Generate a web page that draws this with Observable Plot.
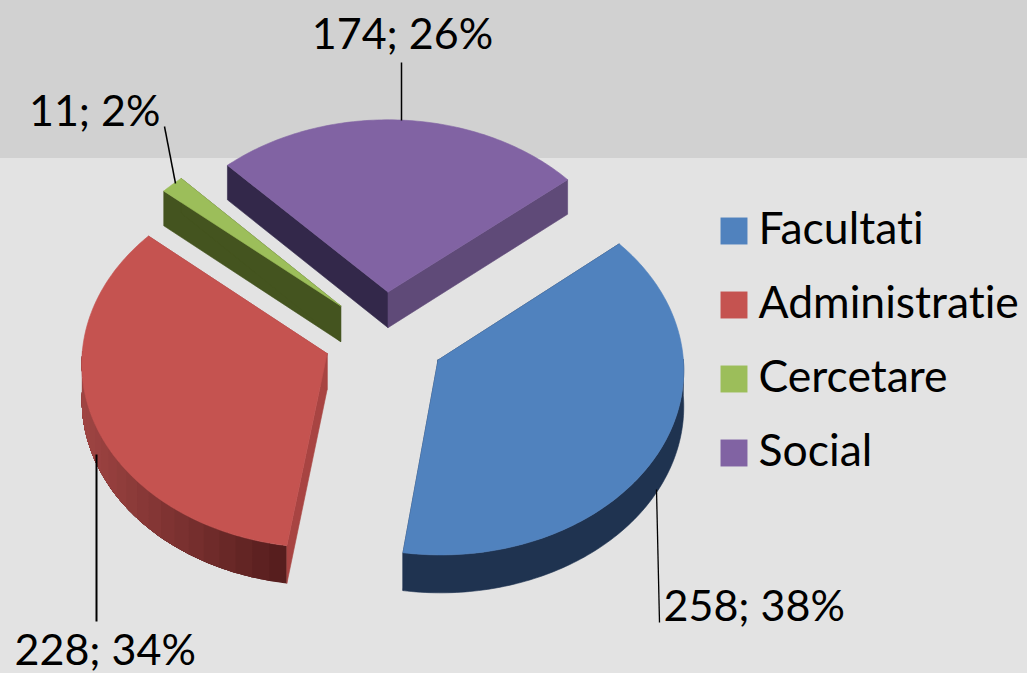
<!DOCTYPE html>
<html><head><meta charset="utf-8">
<script src="https://cdn.jsdelivr.net/npm/d3@7"></script>
<script src="https://cdn.jsdelivr.net/npm/@observablehq/plot@0.6"></script>
<style>html,body{margin:0;padding:0;background:#e3e3e3;overflow:hidden}svg{display:block}text{font-variant-ligatures:none;font-feature-settings:"liga" 0}</style>
</head><body><div id="c"></div>
<script>
const categories = ["Facultati","Administratie","Cercetare","Social"];
const values = [258,228,11,174];
const percents = [38,34,2,26];
const topColors = ["#5082be","#c55350","#9cbe5a","#8163a3"];
const startCutColors = ["#1f3350","#a84442","#44541f","#33284a"];
const endCutColors = ["#1f3350","#a84442","#44541f","#5f4a78"];
const arcColors = [["#1f3350","#1f3350"],["#a04543","#571e1e"],["#44541f","#44541f"],["#33284a","#33284a"]];

// view geometry of the tilted pie
const W=1027,H=673, cx=384, cy=337, rx=244, ry=184, k=0.045, explode=0.25, depth=36, startDeg=50;
const rad=d=>d*Math.PI/180;
const pie=d3.pie().sort(null).startAngle(rad(startDeg)).endAngle(rad(startDeg+360))(values);
const project=(u,v,z=0)=>{const w=1-k*v;return {x:cx+rx*u/w,y:cy+ry*v/w+z*depth/w};};
const slices=pie.map((p,i)=>{
  const mid=(p.startAngle+p.endAngle)/2, ox=explode*Math.sin(mid), oy=-explode*Math.cos(mid);
  const at=(a,z=0,r=1)=>project(ox+r*Math.sin(a),oy-r*Math.cos(a),z);
  const n=Math.max(4,Math.ceil((p.endAngle-p.startAngle)/rad(1)));
  const angles=d3.range(n+1).map(j=>p.startAngle+(p.endAngle-p.startAngle)*j/n);
  return {i,at,angles,apex:at(0,0,0),apexLow:at(0,1,0)};
});

const faces=[], strips=[]; let id=0;
const addFace=(pts,color,list=faces)=>{id++;[...pts,pts[0]].forEach(pt=>list.push({...pt,id,color}));};
for (const i of [3,2,1,0]) {
  const s=slices[i], a=s.angles;
  const front=a.filter(t=>Math.cos(t)<=0.02);
  if (i===1) {
    const ramp=d3.interpolateRgb(arcColors[i][0],arcColors[i][1]);
    const lo=s.at(Math.PI*1.5).x, hi=s.at(a[0]).x;
    const step=4;
    for (let j=0;j<front.length-1;j+=step) {
      const end=front.length-1; // each strip runs to the arc's end; the next one paints over it
      const part=front.slice(j,end+1);
      const f=Math.max(0,Math.min(1,(s.at(front[j]).x-lo)/(hi-lo)));
      addFace([...part.map(t=>s.at(t)),...part.slice().reverse().map(t=>s.at(t,1))],ramp(f),strips);
    }
  } else if (front.length>1) {
    addFace([...front.map(t=>s.at(t)),...front.slice().reverse().map(t=>s.at(t,1))],arcColors[i][0]);
  }
  addFace([s.apex,s.at(a[0]),s.at(a[0],1),s.apexLow],startCutColors[i]);
  addFace([s.apex,s.at(a[a.length-1]),s.at(a[a.length-1],1),s.apexLow],endCutColors[i]);
  addFace([s.apex,...a.map(t=>s.at(t))],topColors[i]);
}

const wall=[{x1:0,x2:W,y1:0,y2:158}];
const leaders=[
 {x1:656,y1:489,x2:659,y2:622,w:1.3},
 {x1:96,y1:454,x2:96,y2:621,w:2},
 {x1:164,y1:126,x2:175,y2:183,w:1.5},
 {x1:401,y1:62,x2:401,y2:120,w:1.5}];
const labelPos=[{x:663,y:607,a:"start"},{x:14,y:651,a:"start"},{x:160,y:112,a:"end"},{x:402,y:35,a:"middle"}];
const labels=values.map((v,i)=>({...labelPos[i],t:`${v}; ${percents[i]}%`}));
const legend=categories.map((c,i)=>({c,color:topColors[i],y:230.5+i*74}));

const fnt={fontFamily:"Lato, Carlito, sans-serif",fill:"#000"};
const plot=Plot.plot({
  width:W,height:H,margin:0,
  x:{domain:[0,W],range:[0,W],axis:null},
  y:{domain:[0,H],range:[0,H],axis:null},
  color:{type:"identity"},
  style:{background:"#e3e3e3"},
  marks:[
    Plot.rect(wall,{x1:"x1",x2:"x2",y1:"y1",y2:"y2",fill:"#d1d1d1"}),
    Plot.line(strips,{x:"x",y:"y",z:"id",fill:"color",stroke:"none",curve:"linear"}),
    Plot.line(faces,{x:"x",y:"y",z:"id",fill:"color",stroke:"color",strokeWidth:0.6,curve:"linear"}),
    Plot.link(leaders,{x1:"x1",y1:"y1",x2:"x2",y2:"y2",stroke:"#000",strokeWidth:"w"}),
    Plot.text(labels.filter(d=>d.a==="start"),{x:"x",y:"y",text:"t",textAnchor:"start",fontSize:43,...fnt}),
    Plot.text(labels.filter(d=>d.a==="end"),{x:"x",y:"y",text:"t",textAnchor:"end",fontSize:43,...fnt}),
    Plot.text(labels.filter(d=>d.a==="middle"),{x:"x",y:"y",text:"t",textAnchor:"middle",fontSize:43,...fnt}),
    Plot.dot(legend,{x:733.5,y:"y",symbol:"square",r:15.2,fill:"color",stroke:"none"}),
    Plot.text(legend,{x:758,y:d=>d.y-1,text:"c",textAnchor:"start",fontSize:44.5,...fnt})
  ]
});
document.getElementById("c").append(plot);
</script></body></html>
